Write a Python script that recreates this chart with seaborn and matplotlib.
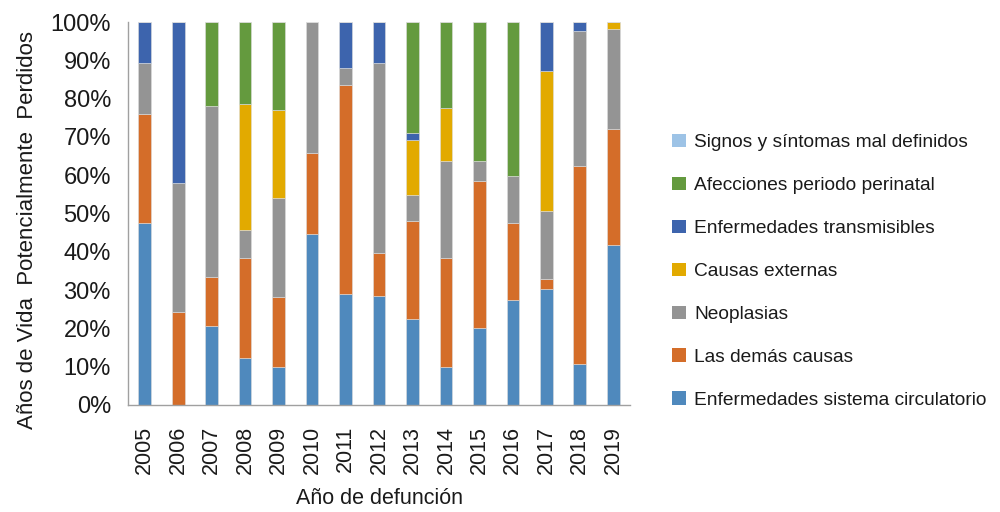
import matplotlib
matplotlib.use("Agg")
import matplotlib.pyplot as plt
import matplotlib.ticker as mticker
from matplotlib.patches import Patch
import numpy as np
import seaborn as sns

years = [str(y) for y in range(2005, 2020)]

# Percentage share of lost potential life years by cause, stacked bottom -> top
circulatorio = [47.5, 0.0, 20.7, 12.2, 10.0, 44.6, 29.0, 28.5, 22.4, 10.0, 20.1, 27.4, 30.3, 10.6, 41.8]
demas_causas = [28.4, 24.4, 12.7, 26.3, 18.3, 21.2, 54.6, 11.2, 25.6, 28.5, 38.4, 20.1, 2.6, 51.9, 30.3]
neoplasias = [13.5, 33.6, 44.6, 7.3, 25.8, 34.2, 4.5, 49.7, 6.8, 25.1, 5.1, 12.3, 17.8, 35.2, 26.2]
externas = [0.0, 0.0, 0.0, 32.8, 22.9, 0.0, 0.0, 0.0, 14.4, 14.0, 0.0, 0.0, 36.4, 0.0, 1.7]
transmisibles = [10.6, 42.0, 0.0, 0.0, 0.0, 0.0, 11.9, 10.6, 1.7, 0.0, 0.0, 0.0, 12.9, 2.3, 0.0]
perinatal = [0.0, 0.0, 22.0, 21.4, 23.0, 0.0, 0.0, 0.0, 29.1, 22.4, 36.4, 40.2, 0.0, 0.0, 0.0]
signos = [0.0] * 15

series = [
    ("Enfermedades sistema circulatorio", circulatorio, "#4F89BD"),
    ("Las demás causas", demas_causas, "#D46D29"),
    ("Neoplasias", neoplasias, "#949494"),
    ("Causas externas", externas, "#E2AA00"),
    ("Enfermedades transmisibles", transmisibles, "#3D64AD"),
    ("Afecciones periodo perinatal", perinatal, "#649A3E"),
    ("Signos y síntomas mal definidos", signos, "#9DC3E6"),
]

sns.set_style("white")
plt.rcParams["font.family"] = ["Liberation Sans", "DejaVu Sans"]
plt.rcParams["text.color"] = "#1a1a1a"
plt.rcParams["axes.labelcolor"] = "#1a1a1a"
plt.rcParams["xtick.color"] = "#1a1a1a"
plt.rcParams["ytick.color"] = "#1a1a1a"

fig = plt.figure(figsize=(10, 5.12), dpi=100)
ax = fig.add_axes([0.128, 0.209, 0.502, 0.748])

bottom = np.zeros(len(years))
for name, vals, col in series:
    vals = np.asarray(vals, dtype=float)
    sns.barplot(x=years, y=vals, bottom=bottom, color=col, width=0.38,
                edgecolor="#dddddd", linewidth=0.4, ax=ax, saturation=1)
    bottom = bottom + vals

ax.set_xlim(-0.5, len(years) - 0.5)
ax.set_ylim(0, 100)
ax.yaxis.set_major_locator(mticker.MultipleLocator(10))
ax.yaxis.set_major_formatter(mticker.FuncFormatter(lambda v, p: f"{v:.0f}%"))

# Category separators on the x axis
ax.set_xticks(np.arange(len(years)))
ax.set_xticklabels(years, rotation=90, fontsize=15.5)
ax.set_xticks(np.arange(-0.5, len(years)), minor=True)
ax.tick_params(axis="x", which="major", length=0, pad=15)
ax.tick_params(axis="x", which="minor", length=6, width=1, color="#a0a0a0", direction="out")
ax.tick_params(axis="y", length=5.8, width=1, color="#a0a0a0", labelcolor="#1a1a1a",
               direction="out", labelsize=17, pad=6.5)

for s in ["top", "right"]:
    ax.spines[s].set_visible(False)
for s in ["left", "bottom"]:
    ax.spines[s].set_color("#a0a0a0")
    ax.spines[s].set_linewidth(1)

ax.set_xlabel("Año de defunción", fontsize=15.5, labelpad=10)
ax.set_ylabel("Años de Vida  Potencialmente  Perdidos", fontsize=16)
ax.yaxis.set_label_coords(-0.18, 0.457)

handles = [Patch(facecolor=col, edgecolor="none", label=name) for name, _, col in reversed(series)]
fig.legend(handles=handles, loc="center left", bbox_to_anchor=(0.655, 0.47),
           frameon=False, fontsize=13.8, handlelength=0.7, handleheight=0.7,
           handletextpad=0.45, labelspacing=1.33)

fig.savefig("out.png", dpi=100)
